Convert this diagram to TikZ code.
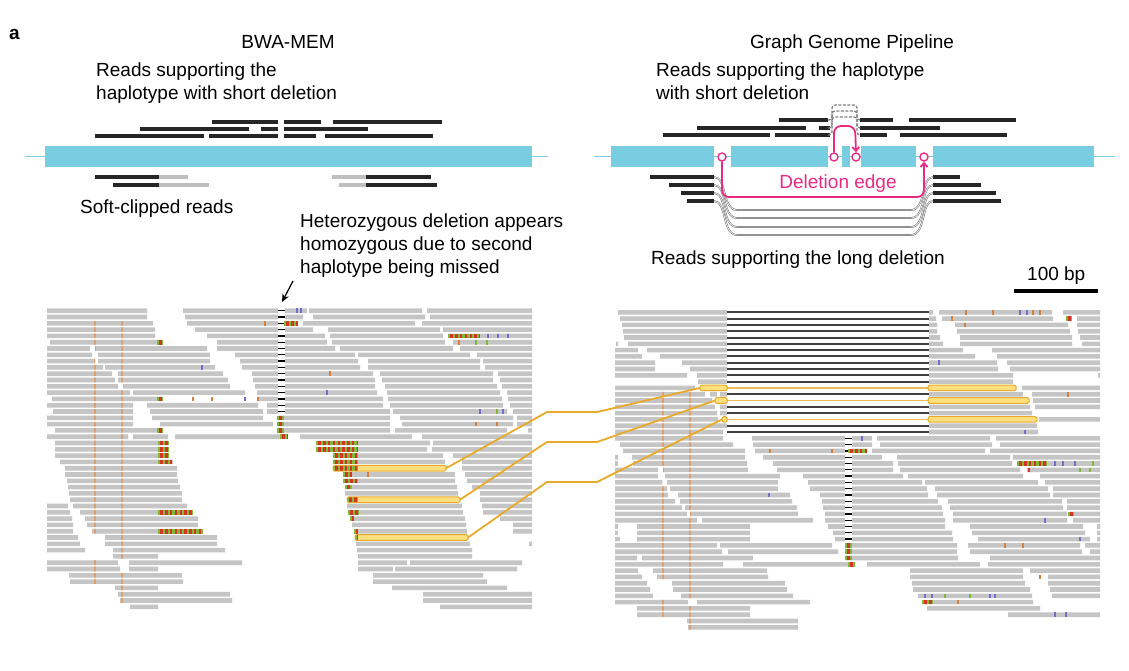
\documentclass[tikz,border=0pt]{standalone}
\usepackage{fontspec}
\setmainfont{Liberation Sans}
\usetikzlibrary{arrows.meta}

\definecolor{readgray}{RGB}{197,197,197}
\definecolor{genomeblue}{RGB}{121,205,224}
\definecolor{edgepink}{RGB}{232,42,132}
\definecolor{hlfill}{RGB}{252,224,128}
\definecolor{hlline}{RGB}{232,170,40}
\definecolor{scred}{RGB}{212,52,40}
\definecolor{scgreen}{RGB}{128,186,52}
\definecolor{snp}{RGB}{214,128,60}
\definecolor{mmblue}{RGB}{112,112,204}

\newcommand{\rowL}[1]{310.7+6.3*#1}
\newcommand{\rowR}[1]{312.3+6.3*#1}

% reads of the two IGV panels, row/start/end
\def\lreads{0/47/147,0/183/307,0/309/422,0/427/532,
1/47/147,1/185/303,1/313/425,1/430/532,
2/47/153,2/187/298,2/303/415,2/422/532,
3/47/155,3/195/313,3/328/440,3/443/532,
4/47/155,4/207/325,4/330/443,4/448/532,
5/50/163,5/217/327,5/332/445,5/453/532,
6/47/90,6/95/207,6/217/335,6/340/453,6/460/532,
7/47/92,7/98/210,7/235/355,7/358/470,7/477/532,
8/47/95,8/98/210,8/240/358,8/368/480,8/483/532,
9/47/103,9/105/215,9/242/360,9/368/480,9/485/532,
10/47/112,10/118/223,10/252/373,10/380/493,10/498/532,
11/47/115,11/118/228,11/253/375,11/382/493,11/500/532,
12/47/118,12/123/230,12/255/375,12/385/497,12/502/532,
13/47/130,13/133/245,13/257/377,13/387/500,13/507/532,
14/52/163,14/257/383,14/388/502,14/508/532,
15/47/133,15/147/258,15/267/383,15/390/503,15/510/532,
16/53/133,16/150/263,16/267/390,16/393/507,16/513/532,
17/47/133,17/152/263,17/277/390,17/400/513,17/517/532,
18/47/133,18/160/273,18/277/390,18/402/513,18/517/532,
19/55/163,19/277/390,19/395/507,19/528/532,
20/47/128,20/133/168,20/175/288,20/300/412,20/422/532,
21/55/168,21/316/430,21/433/532,
22/55/168,22/316/427,22/432/532,
23/55/168,23/333/443,23/453/532,
24/60/173,24/333/445,24/462/532,
25/65/177,25/333/446,25/462/532,
26/65/177,26/343/455,26/465/532,
27/67/178,27/343/455,27/467/532,
28/68/180,28/345/457,28/472/532,
29/69/182,29/345/458,29/480/532,
30/70/182,30/347/460,30/480/532,
31/47/68,31/73/187,31/347/462,31/482/532,
32/47/70,32/80/192,32/348/463,32/483/532,
33/47/72,33/85/198,33/350/465,33/500/532,
34/47/73,34/87/198,34/352/466,34/513/532,
35/47/73,35/92/203,35/354/467,35/513/532,
36/47/78,36/105/217,36/355/468,
37/47/80,37/105/217,37/356/470,37/529/532,
38/47/85,38/113/225,38/357/472,
39/113/158,39/358/472,
40/47/118,40/129/242,40/358/407,40/410/522,
41/47/120,41/129/158,41/358/393,41/395/517,
42/69/182,42/373/483,
43/70/183,43/373/487,
44/115/158,44/392/507,
45/118/230,45/423/532,
46/120/232,46/423/532,
47/130/158,47/440/532}

\def\rreads{0/618/727,0/929/933,0/939/1052,0/1063/1100,
1/620/727,1/929/936,1/942/1053,1/1077/1100,
2/622/727,2/929/937,2/955/1068,2/1077/1100,
3/623/727,3/929/937,3/957/1070,3/1078/1100,
4/624/727,4/929/940,4/960/1072,4/1080/1100,
5/616/618,5/628/727,5/929/943,5/960/1072,5/1082/1100,
6/615/638,6/647/727,6/929/963,6/992/1100,
7/615/642,7/660/727,7/929/975,7/997/1100,
8/615/655,8/682/727,8/929/997,8/1007/1100,
9/615/655,9/690/727,9/929/998,9/1010/1100,
10/615/687,10/697/727,10/929/1013,10/1098/1100,
11/698/727,11/929/1013,
12/615/695,12/700/727,12/928/1016,12/1022/1100,
13/615/705,13/710/717,13/720/727,13/929/1023,13/1032/1100,
14/615/712,14/715/727,14/928/1029,14/1033/1100,
15/615/715,15/720/727,15/929/1030,15/1035/1100,
16/615/717,16/720/727,16/929/1032,
17/615/718,17/722/727,17/928/1037,17/1039/1100,
18/615/727,18/929/1037,
19/615/723,19/929/1038,
20/615/723,20/752/872,20/877/990,20/996/1100,
21/620/733,21/753/872,21/880/992,21/1000/1100,
22/623/745,22/755/867,22/872/985,22/990/1100,
23/615/618,23/632/745,23/763/882,23/897/1010,23/1013/1100,
24/615/618,24/633/747,24/773/893,24/898/1012,24/1017/1100,
25/615/658,25/663/748,25/777/893,25/900/1020,25/1027/1100,
26/615/658,26/665/780,26/803/903,26/908/1023,26/1040/1100,
27/615/662,27/667/778,27/808/922,27/925/1038,27/1045/1100,
28/615/667,28/670/778,28/810/927,28/935/1048,28/1053/1100,
29/615/668,29/678/790,29/820/928,29/937/1050,29/1053/1100,
30/615/675,30/680/792,30/822/938,30/948/1062,30/1067/1100,
31/615/682,31/685/797,31/823/942,31/950/1063,31/1067/1100,
32/615/687,32/690/798,32/825/943,32/953/1067,32/1070/1100,
33/615/697,33/702/813,33/825/945,33/953/1067,33/1073/1100,
34/615/618,34/637/750,34/828/945,34/970/1083,34/1097/1100,
35/615/618,35/637/750,35/833/952,35/972/1085,35/1097/1100,
36/615/620,36/637/750,36/835/953,36/978/1090,36/1097/1100,
37/615/717,37/720/832,37/845/957,37/968/1080,37/1085/1100,
38/615/722,38/728/838,38/845/957,38/970/1082,38/1090/1100,
39/615/637,39/642/753,39/845/958,39/990/1100,
40/615/723,40/743/855,40/867/980,40/988/1100,
41/615/638,41/653/767,41/910/1023,41/1030/1100,
42/615/642,42/657/768,42/910/1023,42/1048/1100,
43/615/647,43/672/785,43/912/1025,43/1048/1100,
44/615/650,44/673/787,44/913/1030,44/1050/1100,
45/615/653,45/681/793,45/918/1032,45/1052/1100,
46/615/688,46/697/810,46/922/1033,
47/637/750,47/927/1040,
48/637/750,48/1008/1100,
49/687/798,
50/688/798}

% soft-clipped and mismatching stretches
\def\lclips{2/284/298,4/448/480,5/157/163,14/157/163,19/157/163,
17/277/284,18/277/284,19/277/284,20/280/288,
21/158/168,22/158/168,23/158/168,24/158/172,32/158/192,35/158/203,
21/316/358,22/316/358,23/333/358,24/333/358,25/333/358,26/343/352,
27/343/358,28/345/352,30/347/358,32/348/358,33/350/354,35/354/358,36/355/358}
\def\rclips{1/1066/1072,22/848/867,24/1017/1047,32/1068/1073,
37/845/852,38/845/852,39/845/852,40/848/855,46/922/932}
\def\lmarks{0/297/mmblue,0/301/mmblue,2/265/snp,9/202/mmblue,14/193/snp,
14/212/snp,14/245/mmblue,14/258/snp,13/327/mmblue,4/488/mmblue,4/498/mmblue,
4/508/mmblue,5/459/snp,5/476/scgreen,5/487/scgreen,16/480/mmblue,16/503/mmblue,
16/497/scgreen,18/476/snp,18/497/snp,10/330/snp,26/368/snp}
\def\rmarks{0/966/snp,0/993/snp,0/1020/mmblue,0/1027/mmblue,0/1033/snp,
0/1040/snp,1/952/snp,2/965/snp,8/939/mmblue,13/1068/snp,19/1025/mmblue,
20/862/mmblue,22/770/snp,22/832/snp,24/1055/mmblue,24/1063/mmblue,
24/1075/mmblue,24/1093/scgreen,25/1029/scred,25/1080/scgreen,25/1090/scgreen,
29/769/mmblue,33/1045/mmblue,36/1080/mmblue,37/1005/snp,37/1023/snp,
45/925/mmblue,45/932/mmblue,45/945/scgreen,45/970/scgreen,45/990/mmblue,
45/995/mmblue,46/958/snp,48/1055/mmblue,48/1066/mmblue,42/1040/snp}

\tikzset{
  txt/.style={font=\fontsize{19}{23}\selectfont, inner sep=0pt, align=left},
  blackread/.style={line width=3.2pt, black!85},
  clippart/.style={line width=3.2pt, black!25},
  genome/.style={fill=genomeblue},
  backbone/.style={draw=genomeblue, line width=1.3pt},
  gnode/.style={circle, draw=edgepink, fill=white, line width=1.4pt, inner sep=0pt, minimum size=8pt},
  gedge/.style={draw=edgepink, line width=1.8pt, rounded corners=7pt, -{Straight Barb[length=4pt,width=7pt]}},
  skipread/.style={draw=black!50, line width=1.3pt, dash pattern=on 3pt off 1.5pt, rounded corners=3pt},
  longread/.style={draw=black!60, line width=0.4pt, double=black!12, double distance=0.9pt},
  hlmark/.style={draw=hlline, line width=1pt, rounded corners=1.5pt},
  hllink/.style={draw=hlline, line width=1.8pt},
  delline/.style={draw=black!75, line width=2pt},
  tickline/.style={black, line width=1.3pt},
  snpcol/.style={snp!75, line width=1.2pt},
}

\begin{document}
\begin{tikzpicture}[x=1pt,y=-1pt]
\useasboundingbox[fill=white] (0,0) rectangle (1129,670);

% headings and labels
\node[txt, anchor=base west, font=\fontsize{19}{23}\selectfont\bfseries] (panel) at (9,39) {a};
\node[txt, anchor=base] (bwa) at (288,48) {BWA-MEM};
\node[txt, anchor=base] (ggp) at (852,48) {Graph Genome Pipeline};
\node[txt, anchor=north west] (shortL) at (96,63) {Reads supporting the\\haplotype with short deletion};
\node[txt, anchor=base west] (softL) at (80,213) {Soft-clipped reads};
\node[txt, anchor=north west] (hetL) at (300,214) {Heterozygous deletion appears\\homozygous due to second\\haplotype being missed};
\node[txt, anchor=north west] (shortR) at (656,63) {Reads supporting the haplotype\\with short deletion};
\node[txt, anchor=base west] (longR) at (651,264) {Reads supporting the long deletion};
\node[txt, anchor=base west] (bp) at (1027,280) {100 bp};
\coordinate (barL) at (1014,291);
\coordinate (barR) at (1098,291);
\draw[line width=4pt] (barL) -- (barR);

% linear reference (BWA-MEM)
\draw[backbone] (25,156.5) -- (548,156.5);
\fill[genome] (45,146) rectangle (532,167);
\foreach \y/\a/\b in {122/212/278,122/284/321,122/333/442,129/140/249,129/261/278,
  129/284/368,136/95/204,136/209/278,136/284/316,136/325/433,
  177/95/159,177/366/431,185/113/159,185/366/437}
  \draw[blackread] (\a,\y) -- (\b,\y);
\foreach \y/\a/\b in {177/159/188,185/159/209,177/332/366,185/339/366}
  \draw[clippart] (\a,\y) -- (\b,\y);

% graph reference
\draw[backbone] (594,156.5) -- (1115,156.5);
\foreach \a/\b in {611/714,731/828,842/850,861/916,933/1094}
  \fill[genome] (\a,146) rectangle (\b,167);
\foreach \y/\a/\b in {120/779/828,120/860/893,120/909/1016,128/697/806,128/819/830,
  128/860/940,135/663/770,135/775/830,135/860/887,135/900/1007,
  177/650/714,185/669/714,193/681/714,201/687/714,
  177/933/960,185/933/981,193/933/996,201/933/1001}
  \draw[blackread] (\a,\y) -- (\b,\y);
\foreach \y/\t in {120/105,128/111,135/117}
  \draw[skipread] (828,\y) -- (832,\y) -- (832,\t) -- (857,\t) -- (857,\y) -- (860,\y);
\foreach \y/\d in {177/210,185/218,193/227,201/235}
  \draw[longread] (714,\y) .. controls (727,\y) and (722,\d) .. (737,\d) -- (911,\d)
    .. controls (926,\d) and (921,\y) .. (933,\y);
\node[gnode] (n1) at (722,157) {};
\node[gnode] (n2) at (834,157) {};
\node[gnode] (n3) at (856,157) {};
\node[gnode] (n4) at (924,157) {};
\draw[gedge] (n2.north) -- (834,126) -- (855,126) -- (n3.north);
\draw[gedge] (n1.south) -- (722,197) -- (924,197) -- (n4.south);
\node[txt, anchor=base, text=edgepink] (deledge) at (838,188) {Deletion edge};

% read pile-ups
\fill[readgray] \foreach \k/\a/\b in \lreads {(\a,{\rowL{\k}-2.3}) rectangle (\b,{\rowL{\k}+2.3})};
\fill[readgray] \foreach \k/\a/\b in \rreads {(\a,{\rowR{\k}-2.3}) rectangle (\b,{\rowR{\k}+2.3})};
\begin{scope}
  \clip \foreach \k/\a/\b in \lreads {(\a,{\rowL{\k}-2.3}) rectangle (\b,{\rowL{\k}+2.3})};
  \draw[snpcol] (95,{\rowL{2}-3}) -- (95,620) (122,{\rowL{2}-3}) -- (122,620);
\end{scope}
\begin{scope}
  \clip \foreach \k/\a/\b in \rreads {(\a,{\rowR{\k}-2.3}) rectangle (\b,{\rowR{\k}+2.3})};
  \draw[snpcol] (663,{\rowR{13}-3}) -- (663,630) (690,{\rowR{13}-3}) -- (690,630);
\end{scope}
\foreach \k in {0,...,16} {
  \fill[white] (277.5,{\rowL{\k}-2.6}) rectangle (284.5,{\rowL{\k}+2.6});
  \draw[tickline] (277.5,{\rowL{\k}}) -- (284.5,{\rowL{\k}});
}
\foreach \k in {20,...,36} {
  \fill[white] (845,{\rowR{\k}-2.6}) rectangle (852,{\rowR{\k}+2.6});
  \draw[tickline] (845,{\rowR{\k}}) -- (852,{\rowR{\k}});
}
\foreach \k in {0,...,11,13,15,16,18,19}
  \draw[delline] (727,{\rowR{\k}}) -- (929,{\rowR{\k}});
\foreach \k in {12,14,17}
  \draw[hlline!80, line width=1.8pt] (727,{\rowR{\k}}) -- (928,{\rowR{\k}});

% highlighted reads
\foreach \k/\a/\b in {25/333/446,30/347/460,36/355/468}
  \fill[hlfill] (\a,{\rowL{\k}-2.6}) rectangle (\b,{\rowL{\k}+2.6});
\foreach \k/\a/\b in {12/700/727,14/715/727,17/722/727,12/928/1016,14/928/1029,17/928/1037}
  \fill[hlfill] (\a,{\rowR{\k}-2.6}) rectangle (\b,{\rowR{\k}+2.6});

\foreach \k/\a/\b in \lclips {
  \fill[scred] (\a,{\rowL{\k}-2.3}) rectangle (\b,{\rowL{\k}+2.3});
  \draw[scgreen, line width=4.6pt, dash pattern=on 2.4pt off 2.4pt] (\a,{\rowL{\k}}) -- (\b,{\rowL{\k}});
}
\foreach \k/\a/\b in \rclips {
  \fill[scred] (\a,{\rowR{\k}-2.3}) rectangle (\b,{\rowR{\k}+2.3});
  \draw[scgreen, line width=4.6pt, dash pattern=on 2.4pt off 2.4pt] (\a,{\rowR{\k}}) -- (\b,{\rowR{\k}});
}
\foreach \k/\x/\c in \lmarks
  \fill[\c] (\x-1,{\rowL{\k}-2.3}) rectangle (\x+1,{\rowL{\k}+2.3});
\foreach \k/\x/\c in \rmarks
  \fill[\c] (\x-1,{\rowR{\k}-2.3}) rectangle (\x+1,{\rowR{\k}+2.3});

\foreach \k/\a/\b in {25/333/446,30/347/460,36/355/468}
  \draw[hlmark] (\a,{\rowL{\k}-2.8}) rectangle (\b,{\rowL{\k}+2.8});
\foreach \k/\a/\b in {12/700/727,14/715/727,17/722/727,12/928/1016,14/928/1029,17/928/1037}
  \draw[hlmark] (\a,{\rowR{\k}-2.8}) rectangle (\b,{\rowR{\k}+2.8});

% the same three reads in both pile-ups
\coordinate (hlL1) at (446,{\rowL{25}});
\coordinate (hlL2) at (460,{\rowL{30}});
\coordinate (hlL3) at (468,{\rowL{36}});
\coordinate (hlR1) at (700,{\rowR{12}});
\coordinate (hlR2) at (715,{\rowR{14}});
\coordinate (hlR3) at (722,{\rowR{17}});
\draw[hllink] (hlL1) -- (547,412) -- (597,412) -- (hlR1);
\draw[hllink] (hlL2) -- (547,442) -- (597,442) -- (hlR2);
\draw[hllink] (hlL3) -- (547,482) -- (597,482) -- (hlR3);

% pointer to the deletion column
\coordinate (ptail) at (293,281);
\coordinate (phead) at (282,302);
\draw[line width=1.2pt, -{Stealth[length=8pt,width=7pt]}] (ptail) -- (phead);
\end{tikzpicture}
\end{document}
